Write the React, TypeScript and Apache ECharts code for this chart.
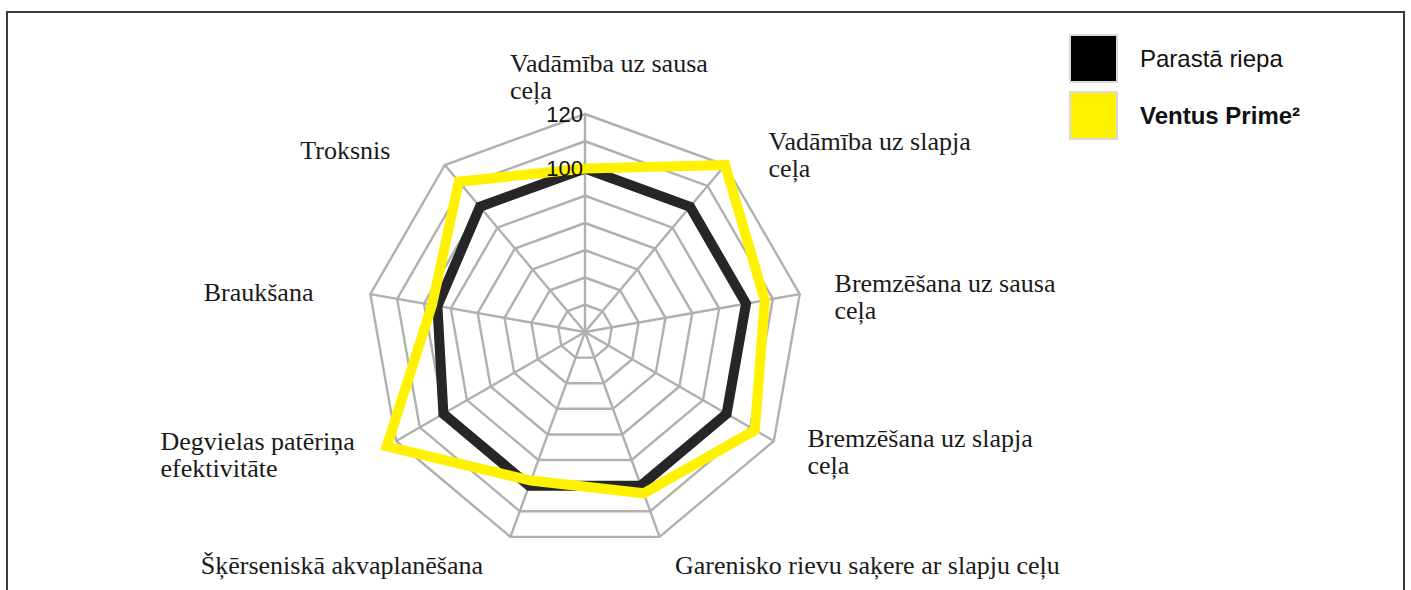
import React, { useEffect, useRef } from 'react';
import * as echarts from 'echarts';

// ---- data (ECharts radar goes counter-clockwise from the top) ----
const indicatorNames = [
  'Vadāmība uz sausa\nceļa',
  'Troksnis',
  'Braukšana',
  'Degvielas patēriņa\nefektivitāte',
  'Šķērseniskā akvaplanēšana',
  'Garenisko rievu saķere ar slapju ceļu',
  'Bremzēšana uz slapja\nceļa',
  'Bremzēšana uz sausa\nceļa',
  'Vadāmība uz slapja\nceļa',
];
const seriesNames = ['Parastā riepa', 'Ventus Prime²'];
const regularTyre = [100, 100, 95, 100, 100, 100, 100, 100, 100];
const ventusPrime = [100, 112, 97, 124, 98, 103, 112, 107, 120];
const axisMin = 40;
const axisMax = 120;
const splitCount = 8;
const shownTicks = [100, 120];

// ---- layout / style ----
const SERIF = '"Liberation Serif", "Times New Roman", serif';
const SANS = '"Liberation Sans", Arial, Helvetica, sans-serif';
const NAME_SIZE = 26;
const NAME_LH = 27;
const NAME_COLOR = '#1a1a1a';
const GRID = '#b0b0b0';
const CENTER = [585, 332];
const RADIUS = 218;

function measure(text: string): number {
  const ctx = document.createElement('canvas').getContext('2d');
  if (!ctx) return text.length * 10;
  ctx.font = `${NAME_SIZE}px ${SERIF}`;
  return ctx.measureText(text).width;
}

export default function App() {
  const ref = useRef<HTMLDivElement>(null);

  useEffect(() => {
    if (!ref.current) return;
    const chart = echarts.init(ref.current, null, { renderer: 'svg' });

    // names whose lines are left-aligned inside a fixed-width block
    const leftBlock = [0, 3];
    const rich: Record<string, any> = {};
    const blockWidth: Record<number, number> = {};
    leftBlock.forEach((i) => {
      const w = Math.ceil(Math.max(...indicatorNames[i].split('\n').map(measure)));
      blockWidth[i] = w;
      rich['n' + i] = {
        width: w,
        align: 'left',
        fontSize: NAME_SIZE,
        lineHeight: NAME_LH,
        fontFamily: SERIF,
        color: NAME_COLOR,
      };
    });

    const topShift = Math.max(0, blockWidth[0] - 150);
    const namePadding: number[][] = [
      [0, 0, 0, topShift],
      [0, 48, 14, 0],
      [0, 47, 0, 0],
      [18, 32, 0, 0],
      [38, 24, 0, 0],
      [38, 0, 0, 12],
      [12, 0, 0, 25],
      [10, 0, 0, 25],
      [0, 0, 4, 37],
    ];

    const gridIndicator = indicatorNames.map((name, i) => ({
      name,
      min: axisMin,
      max: axisMax,
      nameTextStyle: { padding: namePadding[i] },
    }));

    // a second, invisible radar on top that only carries the tick labels
    const labelIndicator = indicatorNames.map((name, i) => {
      const ind: any = { name, min: axisMin, max: axisMax };
      if (i === 0) {
        ind.axisLabel = {
          show: true,
          color: '#111',
          fontFamily: SANS,
          fontSize: 22,
          margin: 2,
          formatter: (v: number) => (shownTicks.includes(v) ? String(v) : ''),
        };
      }
      return ind;
    });

    const option: any = {
      animation: false,
      backgroundColor: '#ffffff',
      graphic: [
        {
          type: 'rect',
          shape: { x: 7, y: 12, width: 1397, height: 640 },
          style: { fill: 'none', stroke: '#3a3a3a', lineWidth: 2 },
          silent: true,
        },
      ],
      legend: {
        orient: 'vertical',
        left: 1069,
        top: 34,
        padding: 0,
        icon: 'rect',
        itemWidth: 47,
        itemHeight: 47,
        itemGap: 8,
        selectedMode: false,
        textStyle: {
          fontFamily: SANS,
          fontSize: 24,
          color: '#111',
          padding: [0, 0, 0, 18],
        },
        data: [
          {
            name: seriesNames[0],
            itemStyle: { color: '#000000', borderColor: '#d9d9d9', borderWidth: 2 },
          },
          {
            name: seriesNames[1],
            itemStyle: { color: '#fff200', borderColor: '#d9d9d9', borderWidth: 2 },
            textStyle: { fontWeight: 'bold' },
          },
        ],
      },
      radar: [
        {
          center: CENTER,
          radius: RADIUS,
          startAngle: 90,
          shape: 'polygon',
          splitNumber: splitCount,
          axisNameGap: 10,
          axisName: {
            color: NAME_COLOR,
            fontFamily: SERIF,
            fontSize: NAME_SIZE,
            lineHeight: NAME_LH,
            formatter: (name: string) => {
              const i = indicatorNames.indexOf(name);
              if (rich['n' + i]) {
                return name
                  .split('\n')
                  .map((l) => `{n${i}|${l}}`)
                  .join('\n');
              }
              return name;
            },
            rich,
          },
          axisLine: { lineStyle: { color: GRID, width: 2.4 } },
          splitLine: { lineStyle: { color: GRID, width: 2.4 } },
          splitArea: { show: false },
          axisTick: { show: false },
          axisLabel: { show: false },
          indicator: gridIndicator,
        },
        {
          center: CENTER,
          radius: RADIUS,
          startAngle: 90,
          shape: 'polygon',
          splitNumber: splitCount,
          z: 10,
          axisName: { show: false },
          axisLine: { show: false },
          splitLine: { show: false },
          splitArea: { show: false },
          axisTick: { show: false },
          axisLabel: { show: false },
          indicator: labelIndicator,
        },
      ],
      series: [
        {
          type: 'radar',
          radarIndex: 0,
          symbol: 'none',
          silent: true,
          data: [
            {
              name: seriesNames[0],
              value: regularTyre,
              lineStyle: { color: '#262626', width: 10, join: 'miter' },
              itemStyle: { color: '#262626' },
            },
            {
              name: seriesNames[1],
              value: ventusPrime,
              lineStyle: { color: '#fff200', width: 10, join: 'miter' },
              itemStyle: { color: '#fff200' },
            },
          ],
        },
      ],
    };

    chart.setOption(option);
    return () => chart.dispose();
  }, []);

  return (
    <div
      ref={ref}
      style={{ position: 'absolute', left: 0, top: 0, width: 1411, height: 590, background: '#fff' }}
    />
  );
}
